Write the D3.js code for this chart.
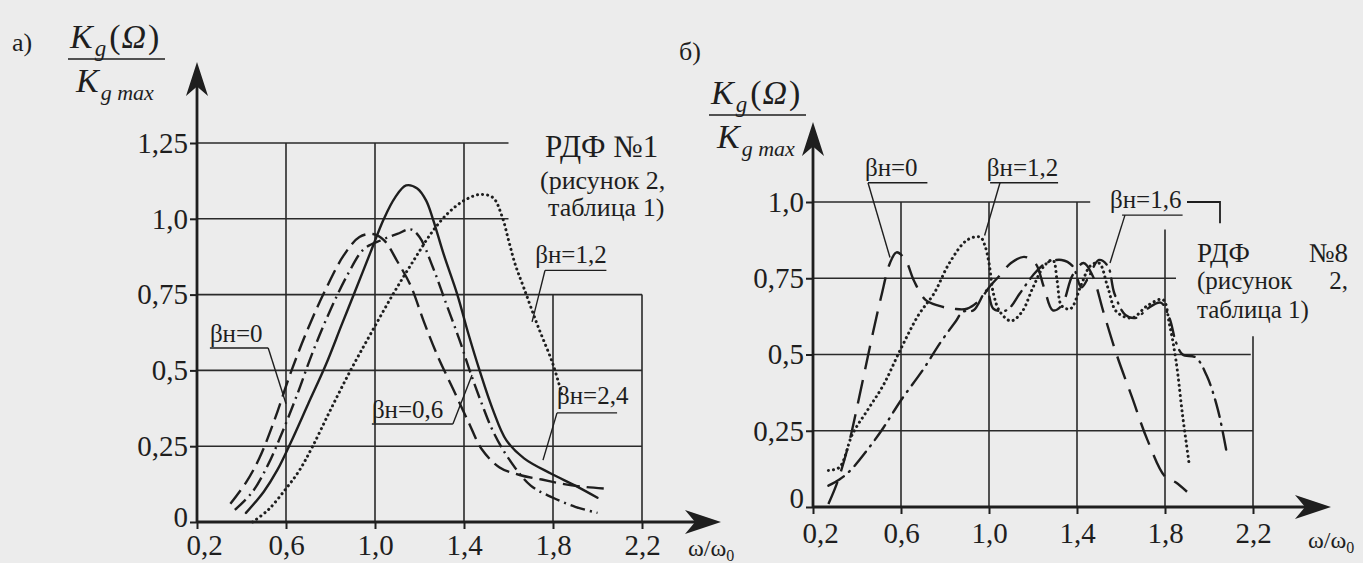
<!DOCTYPE html>
<html><head><meta charset="utf-8">
<script src="https://cdn.jsdelivr.net/npm/d3@7"></script>
<style>
html,body{margin:0;padding:0;background:#ececec;}
svg{display:block;}
text{font-family:"Liberation Serif","Tinos","Times New Roman","DejaVu Serif","Noto Serif",serif;fill:#1e1e1e;}
</style></head>
<body>
<svg id="chart" width="1363" height="563"></svg>
<script>
// ---------- data ----------
const xTicks = [0.2, 0.6, 1.0, 1.4, 1.8, 2.2];
const xTickLabels = ["0,2", "0,6", "1,0", "1,4", "1,8", "2,2"];
const yTicksA = [0, 0.25, 0.5, 0.75, 1.0, 1.25];
const yTickLabelsA = ["0", "0,25", "0,5", "0,75", "1,0", "1,25"];
const yTicksB = [0, 0.25, 0.5, 0.75, 1.0];
const yTickLabelsB = ["0", "0,25", "0,5", "0,75", "1,0"];

// panel а) – РДФ №1
const aBeta0 = [[0.35,0.06],[0.42,0.13],[0.48,0.21],[0.55,0.34],[0.62,0.49],[0.7,0.64],[0.78,0.77],[0.86,0.88],[0.93,0.94],[0.99,0.95],[1.04,0.93],[1.1,0.86],[1.16,0.78],[1.22,0.66],[1.28,0.55],[1.35,0.44],[1.42,0.33],[1.48,0.24],[1.56,0.18],[1.65,0.155],[1.75,0.14],[1.85,0.125],[1.95,0.115],[2.04,0.11]];
const aBeta06 = [[0.37,0.04],[0.45,0.1],[0.52,0.19],[0.58,0.29],[0.65,0.42],[0.72,0.56],[0.8,0.7],[0.88,0.82],[0.95,0.9],[1.03,0.93],[1.1,0.95],[1.16,0.965],[1.2,0.94],[1.26,0.84],[1.32,0.72],[1.38,0.6],[1.43,0.49],[1.48,0.39],[1.53,0.3],[1.6,0.21],[1.7,0.12],[1.8,0.08],[1.9,0.05],[2.0,0.03]];
const aBeta12 = [[0.45,0.0],[0.52,0.04],[0.6,0.11],[0.66,0.17],[0.72,0.25],[0.8,0.37],[0.89,0.5],[0.98,0.62],[1.08,0.75],[1.18,0.87],[1.26,0.96],[1.33,1.02],[1.4,1.06],[1.47,1.08],[1.53,1.07],[1.57,1.01],[1.6,0.93],[1.63,0.85],[1.67,0.77],[1.73,0.65],[1.8,0.52],[1.84,0.42]];
const aBeta24 = [[0.42,0.03],[0.5,0.1],[0.56,0.17],[0.62,0.26],[0.7,0.39],[0.78,0.52],[0.85,0.65],[0.91,0.76],[0.98,0.89],[1.04,1.0],[1.09,1.07],[1.14,1.11],[1.19,1.1],[1.23,1.06],[1.26,1.0],[1.31,0.88],[1.37,0.75],[1.42,0.62],[1.47,0.5],[1.53,0.37],[1.59,0.27],[1.67,0.21],[1.79,0.16],[1.9,0.12],[2.0,0.08]];

// panel б) – РДФ №8
const bBeta0 = [[0.27,0.01],[0.31,0.08],[0.36,0.2],[0.41,0.36],[0.46,0.53],[0.51,0.69],[0.55,0.8],[0.58,0.835],[0.62,0.81],[0.66,0.74],[0.71,0.68],[0.77,0.66],[0.84,0.65],[0.9,0.65],[0.96,0.68],[1.0,0.72],[1.05,0.76],[1.1,0.8],[1.16,0.82],[1.21,0.8],[1.25,0.72],[1.29,0.645],[1.33,0.66],[1.38,0.76],[1.43,0.8],[1.47,0.76],[1.52,0.64],[1.58,0.5],[1.65,0.36],[1.72,0.22],[1.8,0.1],[1.85,0.08],[1.9,0.05]];
const bBeta12 = [[0.27,0.12],[0.32,0.13],[0.38,0.24],[0.45,0.32],[0.52,0.4],[0.6,0.52],[0.68,0.63],[0.75,0.7],[0.82,0.8],[0.9,0.875],[0.96,0.885],[0.98,0.86],[1.0,0.8],[1.02,0.7],[1.05,0.64],[1.1,0.61],[1.15,0.64],[1.2,0.72],[1.25,0.79],[1.29,0.81],[1.31,0.74],[1.33,0.66],[1.37,0.65],[1.42,0.73],[1.46,0.79],[1.5,0.8],[1.54,0.72],[1.58,0.64],[1.65,0.62],[1.72,0.66],[1.79,0.68],[1.82,0.6],[1.85,0.48],[1.88,0.3],[1.91,0.14]];
const bBeta16 = [[0.27,0.07],[0.32,0.09],[0.37,0.12],[0.45,0.19],[0.52,0.26],[0.6,0.35],[0.7,0.45],[0.78,0.54],[0.85,0.61],[0.88,0.64],[0.93,0.645],[0.99,0.71],[1.02,0.65],[1.08,0.645],[1.14,0.7],[1.2,0.76],[1.26,0.8],[1.33,0.81],[1.38,0.79],[1.42,0.72],[1.45,0.75],[1.5,0.81],[1.54,0.79],[1.57,0.7],[1.62,0.63],[1.67,0.62],[1.72,0.65],[1.78,0.67],[1.82,0.62],[1.85,0.54],[1.88,0.5],[1.94,0.49],[1.99,0.43],[2.04,0.32],[2.08,0.18]];

// ---------- drawing ----------
const svg = d3.select("#chart");
const ink = "#1e1e1e";

const styles = {
  solid:   {dash: null, cap: "round", w: 2.4},
  longdash:{dash: "17,7", cap: "butt", w: 2.4},
  dashdot: {dash: "15,5,2,5", cap: "butt", w: 2.4},
  dotted:  {dash: "0.1,5", cap: "round", w: 3},
  bLong:   {dash: "24,11", cap: "butt", w: 2.4},
  bDashDot:{dash: "18,7,1,7", cap: "round", w: 2.4}
};

function arrow(g, x, y, dir, len, half) {
  let p;
  if (dir === "up") p = [[x, y], [x - half, y + len], [x, y + len * 0.72], [x + half, y + len]];
  else p = [[x, y], [x - len, y - half], [x - len * 0.72, y], [x - len, y + half]];
  g.append("path").attr("d", "M" + p.map(d => d.join(",")).join("L") + "Z").attr("fill", ink);
}

function panel(cfg) {
  const g = svg.append("g");
  const x = d3.scaleLinear().domain([0.2, 2.2]).range(cfg.xr);
  const y = d3.scaleLinear().domain([0, cfg.ymax]).range(cfg.yr);

  const grid = g.append("g").attr("stroke", "#2a2a2a").attr("stroke-width", 1.6);
  cfg.hgrid.forEach(([v, x1]) => grid.append("line").attr("x1", x(0.2)).attr("x2", x(x1)).attr("y1", y(v)).attr("y2", y(v)));
  cfg.vgrid.forEach(([v, y1]) => grid.append("line").attr("x1", x(v)).attr("x2", x(v)).attr("y1", y(0)).attr("y2", y(y1)));

  const ya = g.append("g").attr("transform", `translate(${x(0.2)},0)`)
    .call(d3.axisLeft(y).tickValues(cfg.yTicks).tickSize(7).tickFormat((d, i) => cfg.yLabels[i]));
  ya.select(".domain").remove();
  ya.attr("font-family", null);
  ya.selectAll("line").attr("stroke", ink).attr("stroke-width", 2);
  ya.selectAll("text").attr("font-size", 29).attr("fill", ink).attr("x", -9)
    .attr("dy", (d) => d === 0 ? cfg.zeroDy : "0.32em");

  const xa = g.append("g").attr("transform", `translate(0,${y(0)})`)
    .call(d3.axisBottom(x).tickValues(xTicks).tickSize(7).tickFormat((d, i) => xTickLabels[i]));
  xa.select(".domain").remove();
  xa.attr("font-family", null);
  xa.selectAll("line").attr("stroke", ink).attr("stroke-width", 2);
  xa.selectAll("text").attr("font-size", 29).attr("fill", ink).attr("y", cfg.xLabDy)
    .attr("dx", d => d === 0.2 ? 7 : 0);

  g.append("line").attr("x1", x(0.2)).attr("x2", x(0.2)).attr("y1", y(0)).attr("y2", cfg.yArrow + 10).attr("stroke", ink).attr("stroke-width", 2.8);
  g.append("line").attr("x1", x(0.2)).attr("x2", cfg.xArrow - 10).attr("y1", y(0)).attr("y2", y(0)).attr("stroke", ink).attr("stroke-width", 2.8);
  arrow(g, x(0.2), cfg.yArrow, "up", 34, 11);
  arrow(g, cfg.xArrow, y(0), "right", 36, 12);

  const xl = g.append("text").attr("x", cfg.xLabel[0]).attr("y", cfg.xLabel[1]).attr("font-size", 24);
  xl.append("tspan").text("ω/ω");
  xl.append("tspan").attr("font-size", 16).attr("dy", 5).text("0");

  const [tx, ty] = cfg.yTitle;
  const num = g.append("text").attr("x", tx).attr("y", ty).attr("font-size", 34).attr("font-style", "italic");
  num.append("tspan").text("K");
  num.append("tspan").attr("font-size", 23).attr("dy", 8).attr("dx", 2).text("g");
  num.append("tspan").attr("dy", -8).attr("dx", 3).attr("font-style", "normal").text("(");
  num.append("tspan").attr("dx", 1).text("Ω");
  num.append("tspan").attr("dx", 2).attr("font-style", "normal").text(")");
  g.append("line").attr("x1", tx - 2).attr("x2", tx + 95).attr("y1", ty + 11).attr("y2", ty + 11).attr("stroke", ink).attr("stroke-width", 1.6);
  const den = g.append("text").attr("x", tx + 6).attr("y", ty + 44).attr("font-size", 34).attr("font-style", "italic");
  den.append("tspan").text("K");
  den.append("tspan").attr("font-size", 22).attr("dy", 8).attr("dx", 2).text("g max");

  g.append("text").attr("x", cfg.tag[0]).attr("y", cfg.tag[1]).attr("font-size", 26).text(cfg.tag[2]);

  const line = d3.line().x(d => x(d[0])).y(d => y(d[1])).curve(d3.curveCatmullRom.alpha(0.5));
  cfg.series.forEach(s => {
    const st = styles[s.style];
    g.append("path").datum(s.data).attr("d", line).attr("fill", "none").attr("stroke", ink)
      .attr("stroke-width", st.w).attr("stroke-dasharray", st.dash).attr("stroke-linecap", st.cap).attr("stroke-linejoin", "round");
  });

  cfg.notes.forEach(n => {
    g.append("text").attr("x", x(n.tx)).attr("y", y(n.ty)).attr("font-size", 25).text("βн=" + n.val);
    g.append("path").attr("d", `M${x(n.u0)},${y(n.uy)}L${x(n.u1)},${y(n.uy)}`).attr("stroke", ink).attr("stroke-width", 1.4).attr("fill", "none");
    g.append("path").attr("d", `M${x(n.l0[0])},${y(n.l0[1])}L${x(n.l1[0])},${y(n.l1[1])}`).attr("stroke", ink).attr("stroke-width", 1.4).attr("fill", "none");
  });

  cfg.legend.forEach(l => {
    g.append("text").attr("x", l.x).attr("y", l.y).attr("font-size", l.fs).attr("text-anchor", l.anchor || "start").text(l.t);
  });
  return {g, x, y};
}

panel({
  xr: [197, 642], yr: [522, 143], ymax: 1.25,
  yTicks: yTicksA, yLabels: yTickLabelsA, zeroDy: "0.15em", xLabDy: 12,
  hgrid: [[1.25, 1.6], [1.0, 1.6], [0.75, 2.2], [0.5, 2.2], [0.25, 2.2]],
  vgrid: [[0.6, 1.25], [1.0, 1.25], [1.4, 1.25], [1.8, 0.75], [2.2, 0.75]],
  yArrow: 62, xArrow: 721,
  xLabel: [688, 556], yTitle: [70, 48], tag: [12, 51, "а)"],
  series: [
    {data: aBeta0, style: "longdash"},
    {data: aBeta06, style: "dashdot"},
    {data: aBeta12, style: "dotted"},
    {data: aBeta24, style: "solid"}
  ],
  notes: [
    {val: "0", tx: 0.258, ty: 0.594, u0: 0.258, u1: 0.52, uy: 0.574, l0: [0.52, 0.574], l1: [0.6, 0.39]},
    {val: "0,6", tx: 0.986, ty: 0.343, u0: 0.986, u1: 1.35, uy: 0.323, l0: [1.35, 0.323], l1: [1.436, 0.485]},
    {val: "1,2", tx: 1.72, ty: 0.854, u0: 1.764, u1: 2.04, uy: 0.83, l0: [1.764, 0.83], l1: [1.706, 0.66]},
    {val: "2,4", tx: 1.818, ty: 0.389, u0: 1.818, u1: 2.088, uy: 0.36, l0: [1.818, 0.36], l1: [1.755, 0.204]}
  ],
  legend: [
    {t: "РДФ №1", x: 545, y: 157, fs: 31},
    {t: "(рисунок 2,", x: 540, y: 189, fs: 26},
    {t: "таблица 1)", x: 548, y: 216, fs: 26}
  ]
});

const pb = panel({
  xr: [813, 1253], yr: [507, 202], ymax: 1.0,
  yTicks: yTicksB, yLabels: yTickLabelsB, zeroDy: "0.0em", xLabDy: 15,
  hgrid: [[1.0, 1.46], [0.75, 1.85], [0.5, 2.19], [0.25, 2.2]],
  vgrid: [[0.6, 1.0], [1.0, 1.0], [1.4, 1.0], [1.8, 0.91], [2.2, 0.56]],
  yArrow: 122, xArrow: 1331,
  xLabel: [1308, 548], yTitle: [711, 104], tag: [679, 60, "б)"],
  series: [
    {data: bBeta0, style: "bLong"},
    {data: bBeta12, style: "dotted"},
    {data: bBeta16, style: "bDashDot"}
  ],
  notes: [
    {val: "0", tx: 0.436, ty: 1.086, u0: 0.45, u1: 0.72, uy: 1.063, l0: [0.45, 1.063], l1: [0.55, 0.818]},
    {val: "1,2", tx: 0.99, ty: 1.086, u0: 1.005, u1: 1.314, uy: 1.063, l0: [1.05, 1.063], l1: [0.98, 0.89]},
    {val: "1,6", tx: 1.55, ty: 0.98, u0: 1.605, u1: 1.88, uy: 0.957, l0: [1.618, 0.957], l1: [1.55, 0.8]}
  ],
  legend: [
    {t: "РДФ", x: 1197, y: 262, fs: 27},
    {t: "№8", x: 1348, y: 262, fs: 27, anchor: "end"},
    {t: "(рисунок", x: 1197, y: 289, fs: 25},
    {t: "2,", x: 1348, y: 289, fs: 25, anchor: "end"},
    {t: "таблица 1)", x: 1197, y: 318, fs: 25}
  ]
});
pb.g.append("path")
  .attr("d", `M${pb.x(1.9)},${pb.y(1.0)}L${pb.x(2.05)},${pb.y(1.0)}L${pb.x(2.05)},${pb.y(0.93)}`)
  .attr("fill", "none").attr("stroke", ink).attr("stroke-width", 1.8);
</script>
</body></html>
